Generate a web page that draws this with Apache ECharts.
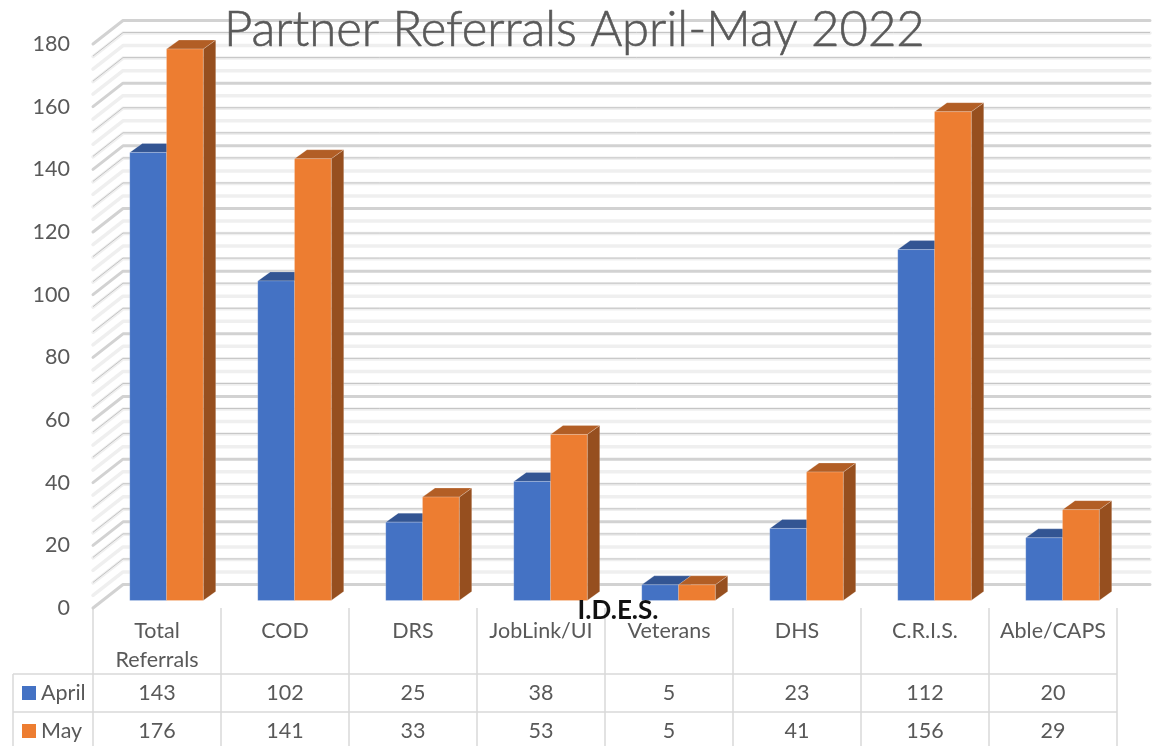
<!DOCTYPE html>
<html>
<head>
<meta charset="utf-8">
<style>
  html, body { margin: 0; padding: 0; background: #fff; }
  #chart { width: 1160px; height: 746px; }
</style>
<script src="https://cdn.jsdelivr.net/npm/echarts@6/dist/echarts.min.js"></script>
</head>
<body>
<div id="chart"></div>
<script>
const categories = ['Total\nReferrals', 'COD', 'DRS', 'JobLink/UI', 'Veterans', 'DHS', 'C.R.I.S.', 'Able/CAPS'];
const april = [143, 102, 25, 38, 5, 23, 112, 20];
const may = [176, 141, 33, 53, 5, 41, 156, 29];
const wallTicks = [0, 4, 8, 12, 16, 20, 24, 28, 32, 36, 40, 44, 48, 52, 56, 60, 64, 68, 72, 76, 80, 84, 88, 92, 96, 100, 104, 108, 112, 116, 120, 124, 128, 132, 136, 140, 144, 148, 152, 156, 160, 164, 168, 172, 176, 180];

const FONT = 'Lato, "Open Sans", sans-serif';
const TEXT = '#595959';
const LINE = '#d9d9d9';
const GRID = { left: 93, right: 43, top: 44, bottom: 138 };
const CELL = 128;
const WALL_END = 1150;
const LABEL_SIZE = 21.5;

function renderWallLine(params, api) {
  const v = api.value(0);
  const p = api.coord([0, v]);
  const x0 = GRID.left;
  const pts = [[x0, p[1]], [x0 + 30, p[1] - 23.5], [WALL_END, p[1] - 23.5]];
  const major = v % 20 === 0;
  const grey = !major && v % 8 === 0;
  const kids = [{
    type: 'polyline',
    shape: { points: pts },
    style: {
      fill: 'none',
      stroke: major ? '#d2d2d2' : '#efefef',
      lineWidth: major ? 3 : 3.5,
      lineCap: 'round',
      lineJoin: 'round'
    }
  }];
  if (grey) {
    kids.push({
      type: 'polyline',
      shape: { points: pts.map(q => [q[0], q[1] - 0.5]) },
      style: { fill: 'none', stroke: '#c4c4c4', lineWidth: 1 }
    });
  }
  return { type: 'group', children: kids };
}

function barRenderer(side, front, top, dark) {
  return function (params, api) {
    const base = api.coord([api.value(0), 0]);
    const head = api.coord([api.value(0), api.value(1)]);
    const w = api.size([1, 0])[0] * 0.287;
    const dx = 12.5, dy = 9;
    const x1 = base[0] + 9.5 + (side < 0 ? -w : 0);
    const x2 = x1 + w;
    const y0 = base[1] - 7.5;
    const y1 = head[1] - 7.5;
    const edge = { stroke: 'rgba(255,255,255,0.25)', lineWidth: 0.8 };
    return {
      type: 'group',
      children: [
        { type: 'polygon', shape: { points: [[x2, y0], [x2 + dx, y0 - dy], [x2 + dx, y1 - dy], [x2, y1]] }, style: { fill: dark, ...edge } },
        { type: 'polygon', shape: { points: [[x1, y1], [x1 + dx, y1 - dy], [x2 + dx, y1 - dy], [x2, y1]] }, style: { fill: top, ...edge } },
        { type: 'rect', shape: { x: x1, y: y1, width: w, height: y0 - y1 }, style: { fill: front, ...edge } }
      ]
    };
  };
}

function tableGraphics() {
  const els = [];
  const xs = categories.map((c, i) => GRID.left + CELL * i);
  const right = GRID.left + CELL * categories.length;
  const line = (x1, y1, x2, y2) => els.push({
    type: 'line',
    shape: { x1, y1, x2, y2 },
    style: { stroke: LINE, lineWidth: 1.5 }
  });
  xs.concat(right).forEach(x => line(x, 608, x, 746));
  line(13, 674, right, 674);
  line(13, 712, right, 712);
  line(13, 674, 13, 746);

  const rows = [
    { name: 'April', values: april, color: '#4472C4', y: 693 },
    { name: 'May', values: may, color: '#ED7D31', y: 731 }
  ];
  const font = LABEL_SIZE + 'px ' + FONT;
  rows.forEach(r => {
    els.push({ type: 'rect', shape: { x: 22, y: r.y - 7, width: 14, height: 14 }, style: { fill: r.color } });
    els.push({ type: 'text', x: 41, y: r.y, style: { text: r.name, font, fill: TEXT, textAlign: 'left', textVerticalAlign: 'middle' } });
    r.values.forEach((v, i) => {
      els.push({ type: 'text', x: xs[i] + CELL / 2, y: r.y, style: { text: String(v), font, fill: TEXT, textAlign: 'center', textVerticalAlign: 'middle' } });
    });
  });
  els.push({ type: 'text', x: 618, y: 611, z: 10, style: { text: 'I.D.E.S.', font: 'bold 26px ' + FONT, fill: '#111', textAlign: 'center', textVerticalAlign: 'middle' } });
  return els;
}

const chart = echarts.init(document.getElementById('chart'), null, { renderer: 'canvas' });
chart.setOption({
  animation: false,
  backgroundColor: '#fff',
  title: {
    text: 'Partner Referrals April-May 2022',
    left: 219,
    top: 1,
    z: 10,
    textStyle: { fontFamily: FONT, fontSize: 49, fontWeight: 300, color: TEXT, textBorderColor: TEXT, textBorderWidth: 0.6 }
  },
  grid: GRID,
  xAxis: {
    type: 'category',
    data: categories,
    axisLine: { show: false },
    axisTick: { show: false },
    axisLabel: { color: TEXT, fontFamily: FONT, fontSize: LABEL_SIZE, lineHeight: 29, margin: 9, interval: 0, verticalAlign: 'top' }
  },
  yAxis: {
    type: 'value',
    min: 0,
    max: 180,
    interval: 20,
    axisLine: { show: false },
    axisTick: { show: false },
    splitLine: { show: false },
    axisLabel: { color: TEXT, fontFamily: FONT, fontSize: LABEL_SIZE, margin: 23, padding: [3, 0, 0, 0] }
  },
  series: [
    { type: 'custom', name: 'wall', coordinateSystem: 'cartesian2d', clip: false, silent: true, renderItem: renderWallLine, encode: { y: 0 }, data: wallTicks.map(v => [v]), z: 1 },
    { type: 'custom', name: 'April', clip: false, renderItem: barRenderer(-1, '#4472C4', '#335593', '#2F5189'), encode: { x: 0, y: 1 }, data: april.map((v, i) => [i, v]), z: 2 },
    { type: 'custom', name: 'May', clip: false, renderItem: barRenderer(1, '#ED7D31', '#B25E25', '#964F1F'), encode: { x: 0, y: 1 }, data: may.map((v, i) => [i, v]), z: 3 }
  ],
  graphic: tableGraphics()
});
</script>
</body>
</html>
